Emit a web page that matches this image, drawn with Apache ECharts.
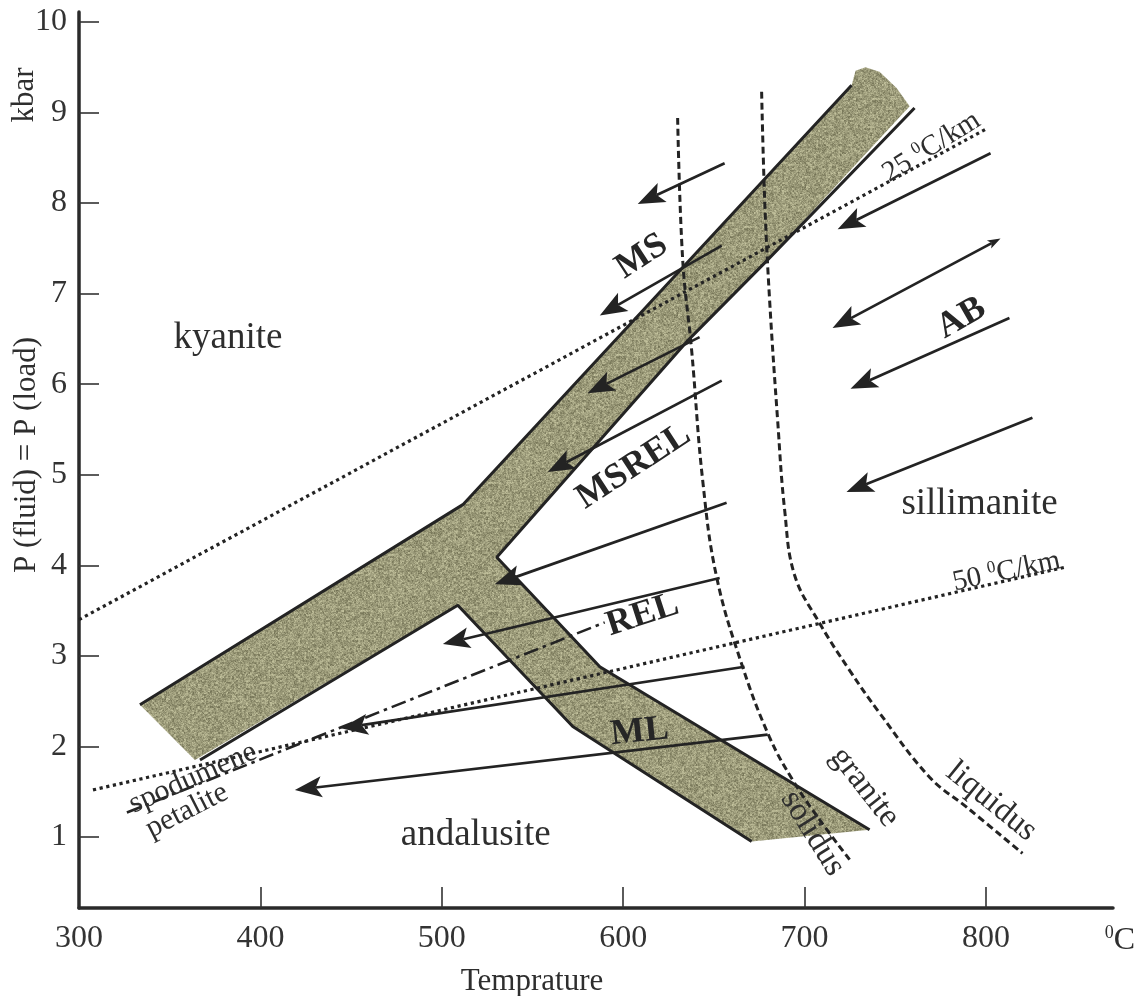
<!DOCTYPE html>
<html>
<head>
<meta charset="utf-8">
<script src="https://cdn.jsdelivr.net/npm/echarts@6/dist/echarts.min.js"></script>
<style>
  html, body { margin: 0; padding: 0; background: #ffffff; }
  #chart { width: 1135px; height: 996px; }
</style>
</head>
<body>
<div id="chart"></div>
<script>
// ---- Axis ticks ----
const temperatureTicks = [300, 400, 500, 600, 700, 800];
const temperatureTickMarks = [400, 500, 600, 700, 800];
const pressureTicks = [1, 2, 3, 4, 5, 6, 7, 8, 9, 10];

// ---- Aluminosilicate band, [T (°C), P (kbar)], outline clockwise ----
const aluminosilicateBand = [
  [333.6, 2.46], [511.6, 4.67], [725.9, 9.30], [728.1, 9.46], [733.6, 9.50],
  [741.3, 9.45], [750.7, 9.27], [757.9, 9.07], [678.0, 7.34], [635.0, 6.47],
  [530.3, 4.09], [587.1, 2.88], [735.8, 1.08], [670.8, 0.95], [572.2, 2.22],
  [508.8, 3.56], [363.9, 1.85]
];
// Border strokes of the band
const bandKyaniteEdge = [[333.6, 2.46], [511.6, 4.67], [725.9, 9.30]];
const bandSillimaniteEdge = [[760.6, 9.05], [678.0, 7.34], [635.0, 6.47], [530.3, 4.09], [587.1, 2.88], [735.8, 1.08]];
const bandAndalusiteEdge = [[366.7, 1.85], [508.8, 3.56], [572.2, 2.22], [670.8, 0.95]];

// ---- Geotherms ----
const geotherm25 = [[300.0, 3.40], [800.3, 8.82]];
const geotherm50 = [[307.7, 1.52], [843.8, 3.98]];

// ---- Granite solidus and liquidus ----
const graniteSolidus = [
  [630.0, 8.94], [632.8, 7.37], [637.7, 6.38], [643.8, 4.94], [651.5, 3.87],
  [665.8, 2.88], [680.7, 2.10], [693.4, 1.63], [708.3, 1.19], [724.8, 0.75]
];
const graniteLiquidus = [
  [676.3, 9.23], [678.0, 8.03], [680.7, 6.93], [685.1, 5.61], [689.0, 4.61],
  [694.5, 3.89], [708.3, 3.36], [724.8, 2.84], [741.3, 2.37], [768.9, 1.66],
  [789.3, 1.33], [820.1, 0.82]
];

// ---- Spodumene / petalite boundary ----
const spodumenePetalite = [[326.4, 1.27], [589.8, 3.37]];

// ---- P-T paths: [T start, P start, T end, P end] ----
const coolingPaths = [
  [655.9, 8.44, 608.0, 7.99],
  [654.3, 7.53, 587.1, 6.76],
  [642.1, 6.52, 580.4, 5.90],
  [654.3, 6.04, 558.4, 5.03],
  [657.0, 4.69, 529.2, 3.79],
  [653.2, 3.86, 500.6, 3.13],
  [666.9, 2.88, 444.4, 2.20],
  [679.6, 2.13, 419.0, 1.52],
  [802.5, 8.55, 718.2, 7.71],
  [812.9, 6.73, 725.3, 5.95],
  [825.6, 5.63, 723.1, 4.81]
];
// Path with heads at both ends: [T small head, P small head, T main head, P main head]
const reversiblePaths = [[808.0, 7.61, 715.4, 6.62]];

// ---- Text annotations anchored in T-P space ----
const fieldLabels = [
  { text: 'kyanite', at: [382.1, 6.51] },
  { text: 'andalusite', at: [518.7, 1.02] },
  { text: 'sillimanite', at: [796.4, 4.67] }
];
const pathLabels = [
  { text: 'MS', at: [610.2, 7.41] },
  { text: 'MSREL', at: [605.8, 5.09] },
  { text: 'REL', at: [610.7, 3.45] },
  { text: 'ML', at: [609.1, 2.16] },
  { text: 'AB', at: [786.5, 6.73] }
];
const curveLabels = [
  { text: 'spodumene', at: [362.8, 1.65] },
  { text: 'petalite', at: [359.5, 1.29] },
  { text: 'granite', at: [733.1, 1.55] },
  { text: 'solidus', at: [704.4, 1.04] },
  { text: 'liquidus', at: [803.0, 1.39] }
];
const gradientLabels = [
  { text: '25', at: [770.0, 8.62] },
  { text: '50', at: [811.3, 3.93] }
];

// ---- Styling ----
const SERIF = "'Liberation Serif', 'Times New Roman', serif";
const INK = '#232323';
const TEXT = '#2e2e2e';
const labelRotation = {
  MS: 33, MSREL: 33, REL: 18, ML: 6, AB: 30,
  spodumene: 24, petalite: 27, granite: -52, solidus: -58, liquidus: -39,
  '25': 32, '50': 12
};
const labelFont = {
  spodumene: '30px ' + SERIF, petalite: '30px ' + SERIF,
  granite: '33px ' + SERIF, solidus: '33px ' + SERIF, liquidus: '33px ' + SERIF
};

// Grain texture for the band (deterministic hash noise)
function hash2(x, y) {
  let h = Math.imul(x, 374761393) ^ Math.imul(y, 668265263);
  h = Math.imul(h ^ (h >>> 13), 1274126177);
  h = h ^ (h >>> 16);
  return (h >>> 0) / 4294967296;
}
function grainPattern() {
  const n = 128;
  const c = document.createElement('canvas');
  c.width = n; c.height = n;
  const ctx = c.getContext('2d');
  const img = ctx.createImageData(n, n);
  for (let y = 0; y < n; y++) {
    for (let x = 0; x < n; x++) {
      const v = 0.5 * hash2(x, y) + 0.5 * hash2((x >> 1) + 977, (y >> 1) + 311) - 0.5;
      const i = (y * n + x) * 4;
      img.data[i] = Math.max(0, Math.min(255, 156 + v * 84));
      img.data[i + 1] = Math.max(0, Math.min(255, 155 + v * 84));
      img.data[i + 2] = Math.max(0, Math.min(255, 122 + v * 76));
      img.data[i + 3] = 255;
    }
  }
  ctx.putImageData(img, 0, 0);
  return c;
}
const grain = grainPattern();

function lineSeries(data, lineStyle, z, smooth) {
  return {
    type: 'line', data: data, showSymbol: false, symbol: 'none', silent: true,
    z: z, clip: false, smooth: smooth || false,
    lineStyle: Object.assign({ color: INK }, lineStyle)
  };
}

function headPolygon(tip, from, len, half, notch) {
  const dx = tip[0] - from[0], dy = tip[1] - from[1];
  const d = Math.hypot(dx, dy) || 1;
  const ux = dx / d, uy = dy / d, nx = -uy, ny = ux;
  const bx = tip[0] - ux * len, by = tip[1] - uy * len;
  const back = [tip[0] - ux * (len - notch), tip[1] - uy * (len - notch)];
  return {
    points: [tip, [bx + nx * half, by + ny * half], back, [bx - nx * half, by - ny * half]],
    back: back
  };
}

function renderArrow(params, api, doubleHead) {
  const a = api.coord([api.value(0), api.value(1)]);
  const b = api.coord([api.value(2), api.value(3)]);
  const main = headPolygon(b, a, 27, 10.5, 6);
  const children = [];
  let start = a;
  if (doubleHead) {
    const small = headPolygon(a, b, 13, 4.5, 3);
    start = small.back;
    children.push({ type: 'polygon', shape: { points: small.points }, style: { fill: INK } });
  }
  children.push({
    type: 'line',
    shape: { x1: start[0], y1: start[1], x2: main.back[0], y2: main.back[1] },
    style: { stroke: INK, lineWidth: 2.7 }
  });
  children.push({ type: 'polygon', shape: { points: main.points }, style: { fill: INK } });
  return { type: 'group', children: children };
}

function textSeries(list, font, extra) {
  return {
    type: 'custom', silent: true, z: 10, clip: false,
    data: list.map(d => d.at),
    renderItem: function (params, api) {
      const item = list[params.dataIndex];
      const p = api.coord([api.value(0), api.value(1)]);
      const rot = (labelRotation[item.text] || 0) * Math.PI / 180;
      const style = Object.assign({
        text: item.text, font: labelFont[item.text] || font, fill: TEXT,
        align: 'center', verticalAlign: 'middle'
      }, extra ? extra(item) : {});
      return { type: 'text', x: p[0], y: p[1], rotation: rot, style: style };
    }
  };
}

const chart = echarts.init(document.getElementById('chart'), null, { renderer: 'canvas' });

const option = {
  animation: false,
  backgroundColor: '#ffffff',
  grid: { left: 79, right: 22, top: 12, bottom: 88, containLabel: false },
  xAxis: {
    type: 'value', min: 300, max: 870,
    axisLine: { show: true, onZero: false, lineStyle: { color: '#2a2a2a', width: 3.5 } },
    axisTick: { show: true, inside: true, length: 21, customValues: temperatureTickMarks,
      lineStyle: { color: '#333', width: 1.6 } },
    axisLabel: { customValues: temperatureTicks, showMinLabel: true, fontSize: 32,
      fontFamily: SERIF, color: '#333', margin: 15 },
    splitLine: { show: false }
  },
  yAxis: {
    type: 'value', min: 0.216, max: 10.11,
    axisLine: { show: true, onZero: false, lineStyle: { color: '#2a2a2a', width: 3.5 } },
    axisTick: { show: true, inside: true, length: 20, customValues: pressureTicks,
      lineStyle: { color: '#333', width: 1.6 } },
    axisLabel: { customValues: pressureTicks, fontSize: 32, fontFamily: SERIF,
      color: '#333', margin: 12 },
    splitLine: { show: false }
  },
  graphic: [
    { type: 'text', x: 25, y: 95, rotation: Math.PI / 2,
      style: { text: 'kbar', font: '31px ' + SERIF, fill: TEXT, align: 'center', verticalAlign: 'middle' } },
    { type: 'text', x: 27, y: 455, rotation: Math.PI / 2,
      style: { text: 'P (fluid) = P (load)', font: '31px ' + SERIF, fill: TEXT, align: 'center', verticalAlign: 'middle' } },
    { type: 'text', x: 532, y: 982,
      style: { text: 'Temprature', font: '31px ' + SERIF, fill: TEXT, align: 'center', verticalAlign: 'middle' } },
    { type: 'text', x: 1120, y: 941,
      style: { text: '{s|0}{n|C}', align: 'center', verticalAlign: 'middle', fill: TEXT,
        rich: { s: { fontSize: 18, fontFamily: SERIF, verticalAlign: 'top', fill: TEXT },
                n: { fontSize: 32, fontFamily: SERIF, fill: TEXT, lineHeight: 34 } } } }
  ],
  series: [
    {
      type: 'custom', silent: true, z: 1, clip: false,
      data: aluminosilicateBand,
      renderItem: function (params, api) {
        if (params.dataIndex !== 0) return null;
        const pts = aluminosilicateBand.map(p => api.coord(p));
        return { type: 'polygon', shape: { points: pts },
          style: { fill: { image: grain, repeat: 'repeat' } } };
      }
    },
    lineSeries(bandKyaniteEdge, { width: 3 }, 2),
    lineSeries(bandSillimaniteEdge, { width: 3 }, 2),
    lineSeries(bandAndalusiteEdge, { width: 3 }, 2),
    lineSeries(geotherm25, { width: 3.2, type: [3.2, 3.6] }, 3),
    lineSeries(geotherm50, { width: 3.2, type: [3.2, 3.6] }, 3),
    lineSeries(graniteSolidus, { width: 3, type: [7, 4] }, 3, 0.4),
    lineSeries(graniteLiquidus, { width: 3, type: [7, 4] }, 3, 0.4),
    lineSeries(spodumenePetalite, { width: 2.6, type: [15, 5, 3.5, 5] }, 3),
    {
      type: 'custom', silent: true, z: 4, clip: false,
      dimensions: ['t1', 'p1', 't2', 'p2'],
      encode: { x: [0, 2], y: [1, 3] },
      data: coolingPaths,
      renderItem: function (params, api) { return renderArrow(params, api, false); }
    },
    {
      type: 'custom', silent: true, z: 4, clip: false,
      dimensions: ['t1', 'p1', 't2', 'p2'],
      encode: { x: [0, 2], y: [1, 3] },
      data: reversiblePaths,
      renderItem: function (params, api) { return renderArrow(params, api, true); }
    },
    textSeries(fieldLabels, '37px ' + SERIF),
    textSeries(pathLabels, 'bold 36px ' + SERIF, () => ({ fill: '#262626' })),
    textSeries(curveLabels, '30px ' + SERIF),
    textSeries(gradientLabels, '29px ' + SERIF, (item) => ({
      text: '{n|' + item.text + ' }{s|0}{n|C/km}',
      rich: { n: { fontSize: 29, fontFamily: SERIF, fill: TEXT, lineHeight: 31 },
              s: { fontSize: 17, fontFamily: SERIF, fill: TEXT, verticalAlign: 'top' } }
    }))
  ]
};

chart.setOption(option);
</script>
</body>
</html>
